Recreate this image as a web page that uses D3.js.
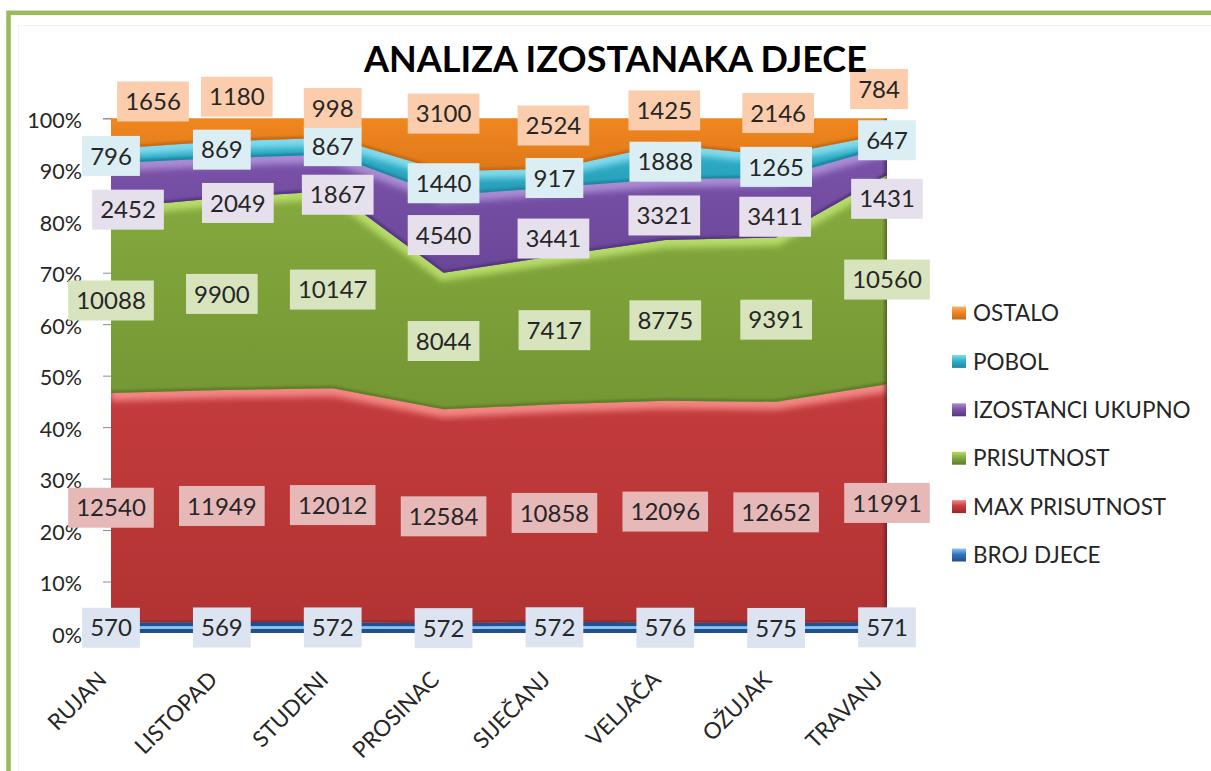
<!DOCTYPE html>
<html><head><meta charset="utf-8">
<script src="https://cdn.jsdelivr.net/npm/d3@7"></script>
<style>
body{margin:0;background:#fff;}
svg{display:block;}
text{font-family:Lato,"Open Sans","DejaVu Sans",sans-serif;}
</style>
</head><body>
<svg id="c" width="1211" height="771"></svg>
<script>
// ---------------- DATA ----------------
const categories = ["RUJAN","LISTOPAD","STUDENI","PROSINAC","SIJEČANJ","VELJAČA","OŽUJAK","TRAVANJ"];
const brojDjece       = [570, 569, 572, 572, 572, 576, 575, 571];
const maxPrisutnost   = [12540, 11949, 12012, 12584, 10858, 12096, 12652, 11991];
const prisutnost      = [10088, 9900, 10147, 8044, 7417, 8775, 9391, 10560];
const izostanciUkupno = [2452, 2049, 1867, 4540, 3441, 3321, 3411, 1431];
const pobol           = [796, 869, 867, 1440, 917, 1888, 1265, 647];
const ostalo          = [1656, 1180, 998, 3100, 2524, 1425, 2146, 784];
const seriesNames = ["BROJ DJECE","MAX PRISUTNOST","PRISUTNOST","IZOSTANCI UKUPNO","POBOL","OSTALO"];
const seriesValues = [brojDjece, maxPrisutnost, prisutnost, izostanciUkupno, pobol, ostalo];
const yTickValues = [0,0.1,0.2,0.3,0.4,0.5,0.6,0.7,0.8,0.9,1];
const title = "ANALIZA IZOSTANAKA DJECE";

// ---------------- STYLE / LAYOUT ----------------
const W = 1211, H = 771;
const plot = {left:111, right:887, top:118.3, bottom:633};
const styles = {
  "BROJ DJECE":       {base:"#3473c0", light:"#8cc6f5", dark:"#1f4f8c", box:"#dbe4f0"},
  "MAX PRISUTNOST":   {base:"#c43c3d", light:"#f58a88", dark:"#9b2727", box:"#e6b9b8"},
  "PRISUTNOST":       {base:"#86ab3e", light:"#b9de6c", dark:"#5d7d27", box:"#d7e4bd"},
  "IZOSTANCI UKUPNO": {base:"#7b53a9", light:"#ac8ed6", dark:"#553683", box:"#e5e0ec"},
  "POBOL":            {base:"#2fb1cc", light:"#86dcee", dark:"#1d869e", box:"#dbeef4"},
  "OSTALO":           {base:"#f0861f", light:"#fab36a", dark:"#c76812", box:"#fbcdac"}
};
// manual label offsets (px) from the band centre, as in the source chart
const labelNudge = {
  "OSTALO":           [[42,-32],[15,-33],[0,-20],[0,-31],[-1,-18],[-1,-21],[2,-24],[-8,-37]],
  "IZOSTANCI UKUPNO": [[17,24],[16,25],[5,22],[0,1],[-1,17],[-1,6],[-1,9],[0,38]]
};

const svg = d3.select("#c");
svg.append("rect").attr("width",W).attr("height",H).attr("fill","#fff");
const defs = svg.append("defs");

// outer frame
svg.append("rect").attr("x",18.5).attr("y",25.5).attr("width",1300).attr("height",900)
  .attr("fill","none").attr("stroke","#f2f2f2").attr("stroke-width",1);
svg.append("rect").attr("x",8.5).attr("y",12.8).attr("width",1300).attr("height",900)
  .attr("fill","none").attr("stroke","#9bbb59").attr("stroke-width",4.5);

// table for the stack
const table = categories.map((c,i)=>{
  const r = {cat:c};
  seriesNames.forEach((s,k)=> r[s] = seriesValues[k][i]);
  return r;
});
const stack = d3.stack().keys(seriesNames).offset(d3.stackOffsetExpand);
const layers = stack(table);

const x = d3.scalePoint().domain(categories).range([plot.left, plot.right]);
const y = d3.scaleLinear().domain([0,1]).range([plot.bottom, plot.top]);

// y axis
const yAxis = svg.append("g").attr("transform",`translate(${plot.left},0)`)
  .call(d3.axisLeft(y).tickValues(yTickValues).tickFormat(d3.format(".0%")).tickSize(8).tickPadding(21));
yAxis.select(".domain").attr("stroke","#8c8c8c");
yAxis.selectAll(".tick line").attr("stroke","#8c8c8c");
yAxis.selectAll(".tick text").attr("font-size",21.5).attr("fill","#262626").attr("dy","0.42em")
  .style("font-family","Lato");

// filters
defs.append("filter").attr("id","blurL").attr("x","-5%").attr("y","-50%").attr("width","110%").attr("height","200%")
  .append("feGaussianBlur").attr("stdDeviation",3);
defs.append("filter").attr("id","blurS").attr("x","-5%").attr("y","-50%").attr("width","110%").attr("height","200%")
  .append("feGaussianBlur").attr("stdDeviation",1.1);

const area = d3.area().x(d=>x(d.data.cat)).y0(d=>y(d[0])).y1(d=>y(d[1]));
const lineTop = d3.line().x(d=>x(d.data.cat)).y(d=>y(d[1]));
const lineBot = d3.line().x(d=>x(d.data.cat)).y(d=>y(d[0]));
const lineMid = d3.line().x(d=>x(d.data.cat)).y(d=>y((d[0]+d[1])/2));

// shadow under base
svg.append("line").attr("x1",plot.left).attr("x2",plot.right).attr("y1",plot.bottom+1.5).attr("y2",plot.bottom+1.5)
  .attr("stroke","#b8b8b8").attr("stroke-width",3).attr("filter","url(#blurS)");

const gA = svg.append("g");
layers.forEach((layer,i)=>{
  const st = styles[layer.key];
  const gid = "grad"+i;
  const gr = defs.append("linearGradient").attr("id",gid).attr("x1",0).attr("y1",0).attr("x2",0).attr("y2",1);
  gr.append("stop").attr("offset","0%").attr("stop-color",st.base);
  gr.append("stop").attr("offset","100%").attr("stop-color",d3.interpolateRgb(st.base,st.dark)(0.45));
  defs.append("clipPath").attr("id","clip"+i).append("path").attr("d",area(layer));
  gA.append("path").attr("d",area(layer)).attr("fill",`url(#${gid})`);
  const gc = gA.append("g").attr("clip-path",`url(#clip${i})`);
  if (layer.key === "BROJ DJECE") {
    gc.append("path").attr("d",area(layer)).attr("fill",st.dark);
    gc.append("path").attr("d",lineMid(layer)).attr("fill","none").attr("stroke",st.light)
      .attr("stroke-width",5).attr("filter","url(#blurS)");
  } else {
    gc.append("path").attr("d",lineTop(layer)).attr("fill","none").attr("stroke",st.light)
      .attr("stroke-width",16).attr("stroke-opacity",0.95).attr("filter","url(#blurL)");
    gc.append("path").attr("d",lineBot(layer)).attr("fill","none").attr("stroke",st.dark)
      .attr("stroke-width",5).attr("filter","url(#blurS)");
  }
});
// right edge shading
const rg = defs.append("linearGradient").attr("id","redge").attr("x1",0).attr("x2",1).attr("y1",0).attr("y2",0);
rg.append("stop").attr("offset","0%").attr("stop-color","#000").attr("stop-opacity",0);
rg.append("stop").attr("offset","100%").attr("stop-color","#000").attr("stop-opacity",0.35);
gA.append("rect").attr("x",plot.right-5).attr("y",plot.top).attr("width",5).attr("height",plot.bottom-plot.top)
  .attr("fill","url(#redge)");

// category labels
svg.append("g").selectAll("text").data(categories).join("text")
  .attr("transform",d=>`translate(${x(d)-3},681) rotate(-45)`)
  .attr("text-anchor","end").attr("font-size",22.5).attr("fill","#262626").text(d=>d);

// data labels
const gL = svg.append("g");
layers.forEach(layer=>{
  const st = styles[layer.key];
  const nudge = labelNudge[layer.key];
  layer.forEach((d,j)=>{
    const cx = x(d.data.cat) + (nudge ? nudge[j][0] : 0);
    const cy = y((d[0]+d[1])/2) + (nudge ? nudge[j][1] : 0);
    const g = gL.append("g").attr("transform",`translate(${cx},${cy})`);
    const r = g.append("rect").attr("fill",st.box);
    const t = g.append("text").attr("text-anchor","middle").attr("dy","0.36em")
      .attr("font-size",24).attr("fill","#262626").text(d.data[layer.key]);
    const w = t.node().getComputedTextLength() + 16;
    r.attr("x",-w/2).attr("y",-20).attr("width",w).attr("height",40);
  });
});

// legend
const gLeg = svg.append("g");
seriesNames.slice().reverse().forEach((s,i)=>{
  const st = styles[s];
  const cy = 313 + i*48.4;
  const lg = defs.append("linearGradient").attr("id","lg"+i).attr("x1",0).attr("y1",0).attr("x2",0).attr("y2",1);
  lg.append("stop").attr("offset","0%").attr("stop-color",st.light);
  lg.append("stop").attr("offset","45%").attr("stop-color",st.base);
  lg.append("stop").attr("offset","100%").attr("stop-color",st.dark);
  gLeg.append("rect").attr("x",952).attr("y",cy-6.5).attr("width",14).attr("height",13).attr("fill",`url(#lg${i})`);
  gLeg.append("text").attr("x",973).attr("y",cy).attr("dy","0.36em").attr("font-size",22.5)
    .attr("fill","#262626").text(s);
});

// title
const tt = svg.append("text").attr("x",615.5).attr("y",72).attr("text-anchor","middle")
  .attr("font-weight","bold").attr("font-size",37).attr("fill","#000").text(title);
const tw = tt.node().getComputedTextLength();
tt.attr("font-size", 37*503/tw);
</script>
</body></html>
